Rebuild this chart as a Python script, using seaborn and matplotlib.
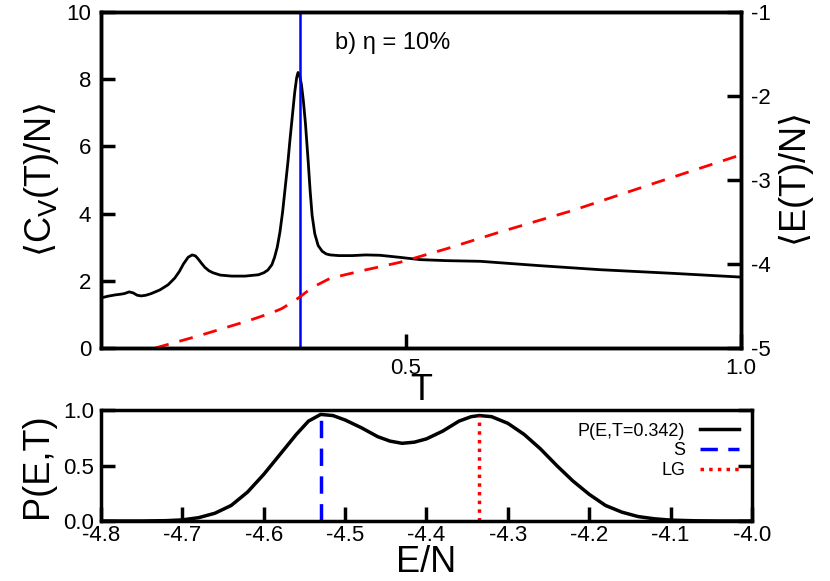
import matplotlib
matplotlib.use("Agg")
import matplotlib.pyplot as plt
import seaborn as sns

plt.rcParams["font.family"] = ["Liberation Sans Narrow", "Liberation Sans", "DejaVu Sans"]
plt.rcParams["axes.unicode_minus"] = False

T_cv = [0.045, 0.055, 0.066, 0.074, 0.080, 0.087, 0.093, 0.099, 0.105, 0.112, 0.120, 0.133, 0.145, 0.155,
        0.162, 0.168, 0.175, 0.181, 0.186, 0.190, 0.195, 0.200, 0.206, 0.212, 0.223, 0.240, 0.260,
        0.280, 0.288, 0.294, 0.300, 0.304, 0.308, 0.312, 0.316, 0.320, 0.324, 0.327, 0.331, 0.334,
        0.337, 0.339, 0.341, 0.344, 0.347, 0.350, 0.354, 0.357, 0.360, 0.364, 0.369, 0.375, 0.381,
        0.387, 0.400, 0.420, 0.440, 0.461, 0.490, 0.521, 0.560, 0.611, 0.700, 0.790, 0.900, 1.0]
Cv = [1.49, 1.54, 1.58, 1.60, 1.62, 1.67, 1.64, 1.57, 1.55, 1.57, 1.62, 1.73, 1.88, 2.08,
      2.28, 2.50, 2.70, 2.77, 2.74, 2.65, 2.52, 2.40, 2.30, 2.24, 2.17, 2.14, 2.14,
      2.18, 2.24, 2.32, 2.48, 2.70, 3.00, 3.45, 4.05, 4.80, 5.55, 6.20, 7.00, 7.60,
      8.05, 8.20, 8.15, 7.85, 7.35, 6.70, 5.60, 4.70, 3.95, 3.40, 3.05, 2.88, 2.80,
      2.77, 2.75, 2.75, 2.77, 2.76, 2.70, 2.63, 2.60, 2.58, 2.45, 2.33, 2.22, 2.11]

T_e = [0.126, 0.193, 0.267, 0.300, 0.315, 0.327, 0.335, 0.342, 0.352, 0.365, 0.387, 0.440, 0.491,
       0.560, 0.640, 0.750, 0.870, 1.0]
E = [-5.0, -4.85, -4.67, -4.58, -4.53, -4.47, -4.43, -4.39, -4.33, -4.26, -4.17, -4.07, -3.98,
     -3.82, -3.62, -3.36, -3.04, -2.70]

T_peak = 0.342

E_p = [-4.80, -4.75, -4.72, -4.70, -4.68, -4.66, -4.64, -4.62, -4.60, -4.58, -4.56, -4.545, -4.53,
       -4.515, -4.50, -4.48, -4.46, -4.445, -4.43, -4.415, -4.40, -4.38, -4.36, -4.345, -4.335,
       -4.32, -4.30, -4.28, -4.26, -4.24, -4.22, -4.20, -4.18, -4.16, -4.14, -4.12, -4.10,
       -4.07, -4.04, -4.00]
P = [0.0, 0.0, 0.003, 0.01, 0.03, 0.07, 0.14, 0.26, 0.42, 0.60, 0.78, 0.90, 0.96,
     0.95, 0.91, 0.84, 0.76, 0.72, 0.70, 0.71, 0.74, 0.81, 0.90, 0.94, 0.95,
     0.94, 0.88, 0.78, 0.65, 0.50, 0.36, 0.24, 0.14, 0.08, 0.04, 0.02, 0.008,
     0.002, 0.0, 0.0]
E_S = -4.53
E_LG = -4.335

W, H = 830, 581
fig = plt.figure(figsize=(W/100, H/100), dpi=100)
ax1 = fig.add_axes([101/W, 1-348/H, 640/W, 336/H])
ax2 = fig.add_axes([101/W, 1-521/H, 651/W, 111/H])

sns.lineplot(x=T_cv, y=Cv, ax=ax1, color="black", lw=2, sort=False)
ax1.axvline(T_peak, color="#0000ff", lw=1.8)
ax1.set_xlim(0.045, 1.0)
ax1.set_ylim(0, 10)
ax1.set_xticks([0.5, 1.0])
ax1.set_xticklabels(["0.5", "1.0"])
ax1.set_yticks([0, 2, 4, 6, 8, 10])
ax1.set_ylabel(r"$\langle$C$_\mathrm{V}$(T)/N$\rangle$", fontsize=26)
ax1.set_xlabel("T", fontsize=26, labelpad=-4)
ax1.text(0.365, 0.89, "b) η = 10%", transform=ax1.transAxes, fontsize=17)

axr = ax1.twinx()
sns.lineplot(x=T_e, y=E, ax=axr, color="#ff0000", lw=2, ls=(0, (5, 4)), sort=False)
axr.set_ylim(-5, -1)
axr.set_yticks([-5, -4, -3, -2, -1])
axr.set_ylabel(r"$\langle$E(T)/N$\rangle$", fontsize=26)

sns.lineplot(x=E_p, y=P, ax=ax2, color="black", lw=2.5, label="P(E,T=0.342)", sort=False)
ax2.plot([E_S, E_S], [0, 0.96], color="#0000ff", lw=2.5, ls=(0, (5, 3)), label="S")
ax2.plot([E_LG, E_LG], [0, 0.95], color="#ff0000", lw=2.5, ls=(0, (1, 1.5)), label="LG")
ax2.set_xlim(-4.8, -4.0)
ax2.set_ylim(0, 1.0)
ax2.set_xticks([-4.8, -4.7, -4.6, -4.5, -4.4, -4.3, -4.2, -4.1, -4.0])
ax2.set_yticks([0.0, 0.5, 1.0])
ax2.set_ylabel("P(E,T)", fontsize=26, labelpad=6)
ax2.set_xlabel("E/N", fontsize=26, labelpad=-1)
leg = ax2.legend(loc="upper right", frameon=False, fontsize=13, markerfirst=False,
                 handlelength=2.2, labelspacing=0.15, borderaxespad=0.3)

for a in (ax1, axr, ax2):
    for s in a.spines.values():
        s.set_linewidth(2.5)
    a.tick_params(direction="in", length=10, width=2.5, labelsize=16, pad=7)
ax2.tick_params(axis="x", top=False, pad=3)
ax2.tick_params(axis="y", right=True, pad=5)

fig.savefig("out.png", dpi=100)
